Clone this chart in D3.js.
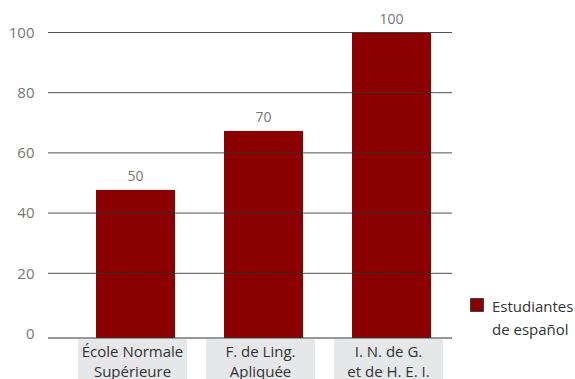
<!DOCTYPE html>
<html><head><meta charset="utf-8">
<script src="https://cdn.jsdelivr.net/npm/d3@7"></script>
<style>body{margin:0;background:#fff}svg{display:block}</style>
</head><body>
<svg id="c" width="575" height="379"></svg>
<script>
const categories = [["École Normale","Supérieure"],["F. de Ling.","Apliquée"],["I. N. de G.","et de H. E. I."]];
const values = [47.7, 67.3, 100];
const valueLabels = ["50","70","100"];
const yTicks = [0,20,40,60,80,100];
const seriesName = ["Estudiantes","de español"];

const svg = d3.select("#c");
const font = "'Open Sans', sans-serif";
const y = d3.scaleLinear().domain([0,100]).range([333.5,32.5]);
const yBase = 338;
const x = d3.scaleBand().domain(d3.range(categories.length)).range([71.5,455.5]).paddingInner(0.383).paddingOuter(0.1915);
const gx0 = 48, gx1 = 452;

// bars
svg.selectAll("rect.bar").data(values).join("rect").attr("class","bar")
  .attr("x",(d,i)=>x(i)).attr("width",x.bandwidth())
  .attr("y",d=>y(d)).attr("height",d=>yBase-y(d)).attr("fill","#8b0000");

// gridlines (over bars)
svg.selectAll("line.grid").data(yTicks.filter(t=>t>0)).join("line").attr("class","grid")
  .attr("x1",gx0).attr("x2",gx1).attr("y1",d=>y(d)).attr("y2",d=>y(d))
  .attr("stroke","#333").attr("stroke-opacity",0.85).attr("stroke-width",1);
svg.append("line").attr("x1",gx0).attr("x2",gx1).attr("y1",yBase).attr("y2",yBase).attr("stroke","#333");

// y tick labels
svg.selectAll("text.yt").data(yTicks).join("text").attr("class","yt")
  .attr("x",34.5).attr("y",d=>y(d)).attr("dy","0.35em").attr("text-anchor","end")
  .attr("font-family",font).attr("font-size",15).attr("fill","#777").text(d=>d);

// value labels
svg.selectAll("text.vl").data(values).join("text").attr("class","vl")
  .attr("x",(d,i)=>x(i)+x.bandwidth()/2).attr("y",d=>y(d)-9)
  .attr("text-anchor","middle").attr("font-family",font).attr("font-size",14).attr("fill","#777")
  .text((d,i)=>valueLabels[i]);

// category labels
const cg = svg.selectAll("g.cat").data(categories).join("g").attr("class","cat")
  .attr("transform",(d,i)=>`translate(${x(i)+x.bandwidth()/2-3},0)`);
cg.append("rect").attr("x",-54.5).attr("width",109).attr("y",339).attr("height",45).attr("fill","#e6e7e8");
cg.each(function(d){
  const g = d3.select(this);
  d.forEach((t,j)=>g.append("text").attr("x",0).attr("y",357+j*19.5).attr("text-anchor","middle")
    .attr("font-family",font).attr("font-size",15).attr("fill","#333").text(t));
});

// legend
svg.append("rect").attr("x",470.5).attr("y",298.5).attr("width",13).attr("height",13)
  .attr("fill","#8b0000").attr("stroke","#444").attr("stroke-width",1);
seriesName.forEach((t,j)=>svg.append("text").attr("x",492).attr("y",312.3+j*22.5)
  .attr("font-family",font).attr("font-size",15).attr("fill","#333").text(t));
</script>
</body></html>
